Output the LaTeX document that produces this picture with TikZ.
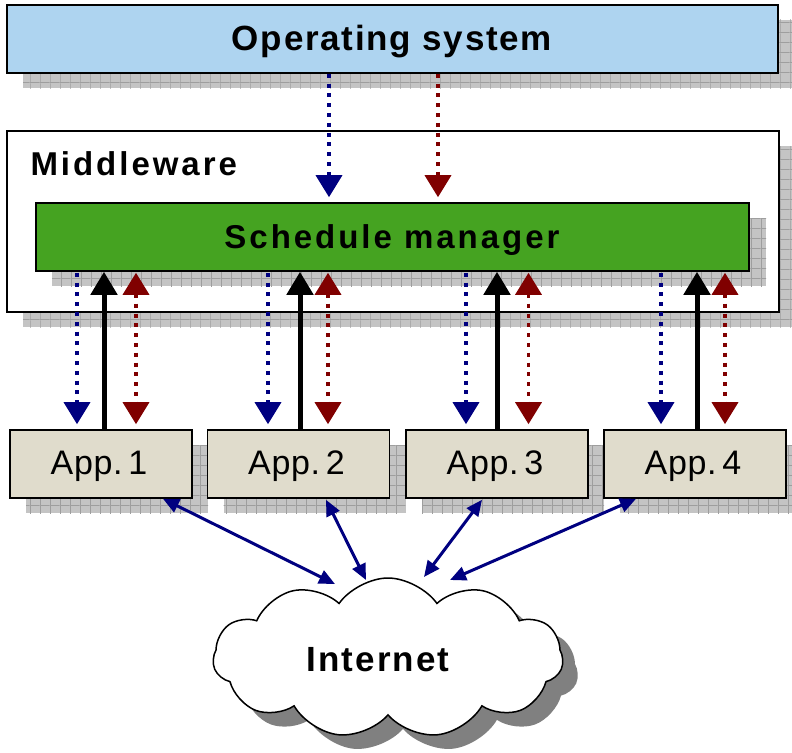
\documentclass[tikz,border=0pt]{standalone}
\usepackage{fontspec}
\setmainfont{Liberation Sans}
\usetikzlibrary{arrows.meta,calc,shapes.symbols,patterns.meta}
\definecolor{osblue}{HTML}{AED4F0}
\definecolor{smgreen}{HTML}{45A321}
\definecolor{appbg}{HTML}{E0DCCC}
\definecolor{navy}{HTML}{000080}
\definecolor{darkred}{HTML}{800000}
\definecolor{shcol}{HTML}{C4C4C4}
\definecolor{shline}{HTML}{9E9E9E}
\pgfdeclarepattern{
  name=shgrid,
  type=uncolored,
  bottom left={\pgfpointorigin},
  top right={\pgfpoint{10.3pt}{10.3pt}},
  tile size={\pgfpoint{10.3pt}{10.3pt}},
  code={
    \pgfpathrectangle{\pgfpointorigin}{\pgfpoint{10.3pt}{0.8pt}}
    \pgfpathrectangle{\pgfpointorigin}{\pgfpoint{0.8pt}{10.3pt}}
    \pgfusepath{fill}
  }
}
\newcommand\shadowrect[4]{%
  \fill[shcol] (#1,#2) rectangle (#3,#4);
  \fill[pattern=shgrid,pattern color=shline] (#1,#2) rectangle (#3,#4);}
\tikzset{
  box/.style={draw=black,line width=1.6pt,inner sep=0pt},
  bigtxt/.style={font=\bfseries\fontsize{35}{38}\selectfont\addfontfeature{LetterSpace=5}},
  apptxt/.style={font=\fontsize{34}{38}\selectfont\addfontfeature{LetterSpace=2}},
  bluedot/.style={navy,line width=3.6pt,dash pattern=on 4pt off 5.8pt,-{Triangle[length=22pt,width=26pt]}},
  reddot/.style={darkred,line width=3.6pt,dash pattern=on 4pt off 5.8pt,-{Triangle[length=22pt,width=26pt]}},
  reddbl/.style={darkred,line width=3.6pt,dash pattern=on 4pt off 5.8pt,{Triangle[length=22pt,width=26pt]}-{Triangle[length=22pt,width=26pt]}},
  blackarr/.style={black,line width=5pt,-{Triangle[length=23pt,width=26pt]}},
  netarr/.style={navy,line width=3pt,{Triangle[length=16pt,width=14pt]}-{Triangle[length=16pt,width=14pt]}},
  cloudshape/.style={cloud,cloud puffs=11,cloud puff arc=110,aspect=2.2,minimum width=350pt,minimum height=160pt,inner sep=0pt},
}
\begin{document}
\begin{tikzpicture}[x=1pt,y=-1pt]
\useasboundingbox (0,0) rectangle (792,752);
% Operating system
\shadowrect{23}{20}{794}{88}
\node[box,fill=osblue,minimum width=771pt,minimum height=68pt] (os) at (392.5,39) {};
\node[bigtxt] (ostxt) at (392,42) {Operating system};
% Middleware
\shadowrect{23}{146}{796}{327}
\node[box,fill=white,minimum width=772pt,minimum height=181pt] (mw) at (393,221.5) {};
\node[anchor=west,font=\bfseries\fontsize{33}{36}\selectfont\addfontfeature{LetterSpace=9}] (mwtxt) at (27,164) {Middleware};
% Schedule manager
\shadowrect{52}{218}{766}{286}
\node[box,fill=smgreen,minimum width=713pt,minimum height=68pt] (sm) at (392.5,237) {};
\node[font=\bfseries\fontsize{33}{36}\selectfont\addfontfeature{LetterSpace=9}] (smtxt) at (392,240) {Schedule manager};
% Apps
\foreach \n/\cx in {1/101,2/298.5,3/497,4/695}{
  \shadowrect{\cx-75}{445}{\cx+107}{513}
  \node[box,fill=appbg,minimum width=182pt,minimum height=68pt] (app\n) at (\cx,464) {};
  \node[apptxt] (apptxt\n) at (\cx-2,466) {App.\,\n};
}
% Internet cloud
\node[cloudshape,fill=gray!100,draw=none] (netsh) at (403,672) {};
\node[cloudshape,fill=white,draw=black,line width=1.5pt] (net) at (388,658) {};
\node[font=\bfseries\fontsize{35}{38}\selectfont\addfontfeature{LetterSpace=6}] (nettxt) at (378,660) {Internet};
% OS <-> schedule manager arrows
\draw[bluedot] ($(os.south)+(-63.5,0)$) -- ($(sm.north)+(-63.5,-5)$);
\draw[reddot] ($(os.south)+(45.5,0)$) -- ($(sm.north)+(45.5,-5)$);
% schedule manager <-> apps
\foreach \a/\b/\k/\r in {1/-24/3/35, 2/-30.5/1.5/29.5, 3/-31/0/31.5, 4/-34/2/30}{
  \draw[bluedot] ($(app\a.north |- sm.south)+(\b,1)$) -- ($(app\a.north)+(\b,-5)$);
  \draw[blackarr] ($(app\a.north)+(\k,0)$) -- ($(app\a.north |- sm.south)+(\k,0)$);
  \draw[reddbl] ($(app\a.north |- sm.south)+(\r,1)$) -- ($(app\a.north)+(\r,-5)$);
}
% apps <-> internet
\draw[netarr] ($(app1.south)+(62,0)$) -- ($(net.center)+(-53,-74)$);
\draw[netarr] ($(app2.south)+(27.5,1)$) -- ($(net.center)+(-22,-78)$);
\draw[netarr] ($(app3.south)+(-15,1)$) -- ($(net.center)+(36,-81)$);
\draw[netarr] ($(app4.south)+(-59,0)$) -- ($(net.center)+(62,-78)$);
\end{tikzpicture}
\end{document}
